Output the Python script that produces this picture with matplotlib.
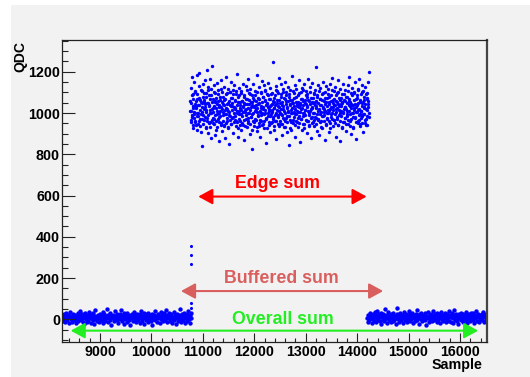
#! /usr/bin/env python

# QDC per sample, with the edge / buffered / overall summing windows marked
import numpy as np
import matplotlib
matplotlib.use("Agg")
import matplotlib.pyplot as plt
from matplotlib.patches import Rectangle
from matplotlib.ticker import MultipleLocator

plt.rcParams['font.family'] = ['Liberation Sans', 'DejaVu Sans']
plt.rcParams['font.weight'] = 'bold'

# sample ranges of the three parts of the trace (decimated samples)
base_left_range = (8270, 10775)
pulse_range = (10752, 14230)
base_right_range = (14195, 16510)

# baseline before the pulse
base_left = [
    12, -8, 25, 3, 17, -15, 30, 6, -2, 21, 9, -20, 14, 35, 0, 11, -12, 27, 5, 18,
    -5, 22, 8, -18, 15, 2, 33, -9, 19, 7, 41, -3, 12, 26, -14, 4, 16, -24, 10, 29,
    1, -11, 20, 13, -6, 37, 8, 24, -17, 5, 15, 31, -1, 9, -22, 18, 44, 3, 11, -7,
    23, 6, -13, 28, 14, -4, 19, 2, 35, -19, 10, 25, 7, -9, 17, 50, 4, -15, 21, 12,
    -2, 30, 9, -26, 16, 5, 22, -10, 13, 38, 0, 18, -5, 27, 8, -16, 11, 24, 3, 47,
    14, -8, 20, 6, -21, 29, 10, 1, 17, -13, 33, 7, 23, -3, 12, -28, 19, 5, 26, 15,
    -6, 9, 36, 2, 21, -12, 16, 28, -1, 11, 4, -18, 25, 13, 42, -7, 8, 19, -23, 30,
    6, 17, -4, 24, 10, -14, 32, 3, 15, 20, -9, 7, 27, -30, 13, 1, 22, 39, -5, 11,
    18, -11, 26, 4, 14, -19, 9, 34, 0, 21, 12, -6, 29, 16, -2, 8, 45, -15, 23, 5,
    10, 31, -8, 19, 2, 25, -17, 13, 7, 36, -4, 20, 11, -25, 28, 6, 15, -10, 22, 52,
    3, 16, -13, 27, 9, -1, 33, 12, -20, 18, 5, 24, -7, 14, 40, 1, 21, -16, 8, 30,
]

# pulse region, wide spread
pulse = [
    1060, 955, 1120, 1010, 980, 1175, 1035, 925, 1090, 995, 1150, 960, 1045, 1105, 940, 1025, 1185, 985, 1070, 1000,
    945, 1130, 1040, 1195, 970, 1065, 910, 1110, 1005, 1050, 840, 1140, 990, 1055, 1095, 965, 1030, 1160, 930, 1080,
    1015, 1210, 975, 1050, 1125, 905, 1035, 1085, 955, 1165, 1000, 880, 1115, 1020, 1230, 950, 1070, 1005, 1135, 970,
    1055, 895, 1095, 1025, 960, 1145, 995, 930, 1060, 1110, 980, 1040, 865, 1080, 1010, 1160, 950, 1030, 1100, 915,
    1045, 990, 1125, 940, 1065, 1015, 880, 1090, 995, 1175, 960, 1020, 1115, 925, 1050, 1005, 850, 1100, 985, 1040,
    1150, 945, 1035, 1075, 975, 1110, 905, 1000, 1135, 1025, 965, 1060, 1090, 935, 1010, 1190, 955, 1055, 885, 1085,
    995, 1120, 960, 1040, 1015, 920, 1105, 1060, 985, 1140, 940, 1030, 1080, 870, 1005, 1045, 970, 1130, 1020, 930,
    1070, 1000, 1165, 950, 1045, 1095, 900, 1015, 1115, 980, 1055, 825, 1085, 995, 960, 1140, 1030, 935, 1065, 1010,
    1105, 965, 1040, 1185, 915, 1025, 1075, 990, 1125, 935, 1050, 1005, 885, 1100, 1035, 960, 1155, 1000, 945, 1080,
    1020, 1135, 925, 1060, 1000, 1110, 970, 855, 1045, 1090, 985, 1030, 1145, 940, 1010, 1070, 910, 1120, 995, 1040,
    955, 1095, 1015, 980, 1245, 1055, 920, 1025, 1085, 960, 1130, 1000, 875, 1065, 1105, 990, 1035, 935, 1170, 1010,
    1050, 945, 1090, 995, 1140, 895, 1040, 1115, 975, 1020, 1075, 930, 1150, 1000, 960, 1060, 1100, 910, 1030, 985,
    1125, 1010, 845, 1080, 1045, 965, 1110, 1000, 920, 1065, 1025, 1180, 950, 1050, 1095, 980, 1005, 1135, 885, 1055,
    995, 1115, 955, 1035, 1085, 930, 1005, 1160, 985, 1050, 860, 1100, 1020, 970, 1070, 1120, 945, 1040, 1000, 1140,
    925, 1065, 1015, 990, 1105, 1045, 905, 1090, 1030, 960, 1165, 1000, 1060, 940, 1125, 1010, 880, 1075, 980, 1025,
    1145, 955, 1050, 1000, 1095, 935, 1055, 1110, 975, 1035, 1225, 915, 1080, 1010, 965, 1135, 1020, 895, 1070, 995,
    1120, 960, 1040, 1090, 925, 1025, 1150, 985, 1060, 1005, 870, 1100, 1045, 945, 1130, 1000, 1075, 970, 1015, 1115,
    910, 1055, 1010, 1140, 950, 1030, 1085, 980, 1170, 1000, 935, 1065, 1105, 965, 1040, 995, 1125, 885, 1060, 1020,
    1095, 970, 1045, 1160, 940, 1015, 1075, 1000, 865, 1115, 1035, 985, 1090, 925, 1055, 1140, 1005, 955, 1065, 1030,
    975, 1110, 1020, 915, 1080, 1050, 995, 1135, 945, 1060, 1010, 1175, 960, 1035, 1095, 900, 1045, 1000, 1120, 980,
    1040, 930, 1100, 1025, 1150, 975, 1070, 1005, 875, 1085, 1040, 950, 1115, 1015, 965, 1165, 995, 1055, 935, 1090,
    1010, 1135, 985, 1050, 910, 1105, 1030, 995, 1065, 950, 1125, 1020, 970, 1075, 1095, 940, 1045, 1150, 980, 1200,
]

# pulse region, samples in between (dense core)
pulse_core = [
    1010, 965, 1050, 990, 1085, 940, 1025, 1070, 975, 1005, 1100, 955, 1035, 1060, 920, 1000, 1090, 985, 1040, 960,
    1075, 1015, 935, 1055, 995, 1105, 970, 1030, 1080, 945, 1020, 1065, 980, 1045, 925, 1095, 1005, 960, 1050, 1110,
    990, 1040, 950, 1070, 1015, 930, 1085, 1000, 965, 1055, 1025, 975, 1100, 945, 1035, 1060, 990, 920, 1075, 1010,
    1045, 970, 1090, 1000, 955, 1030, 1065, 985, 1115, 940, 1020, 1055, 960, 1005, 1080, 935, 1040, 995, 1070, 950,
    1025, 1095, 975, 1045, 1010, 930, 1060, 990, 1100, 965, 1035, 1075, 945, 1015, 1050, 980, 1090, 955, 1030, 1065,
    985, 1020, 1105, 960, 1040, 1000, 925, 1080, 1010, 970, 1055, 1025, 940, 1095, 995, 1060, 950, 1035, 1005, 1085,
    965, 1050, 1015, 935, 1070, 990, 1045, 1110, 975, 1025, 960, 1065, 1000, 945, 1090, 1030, 980, 1055, 920, 1040,
    1075, 1000, 955, 1035, 1085, 970, 1020, 1060, 930, 1005, 1100, 985, 1045, 950, 1070, 1010, 965, 1095, 1025, 990,
    1055, 940, 1030, 1080, 995, 960, 1065, 1015, 1105, 975, 1040, 925, 1050, 1000, 1085, 955, 1020, 1070, 985, 1035,
    950, 1090, 1005, 1045, 970, 1060, 1025, 935, 1075, 990, 1040, 1110, 960, 1015, 1050, 980, 1095, 945, 1030, 1065,
    1000, 960, 1080, 1020, 945, 1055, 990, 1100, 1035, 970, 1010, 1070, 930, 1045, 1085, 975, 1025, 955, 1060, 1005,
    1090, 985, 1040, 925, 1065, 1015, 955, 1050, 1000, 1105, 965, 1035, 1075, 940, 1020, 995, 1080, 960, 1045, 1010,
    975, 1055, 1030, 950, 1095, 1005, 1040, 970, 1070, 920, 1025, 1060, 985, 1110, 1000, 945, 1050, 1015, 1085, 965,
    1035, 1080, 960, 1010, 1065, 990, 935, 1045, 1100, 975, 1020, 1055, 950, 1030, 1075, 1000, 965, 1090, 1040, 980,
    1060, 945, 1025, 1085, 995, 1050, 970, 1015, 1105, 955, 1040, 1070, 930, 1005, 1065, 985, 1030, 1095, 960, 1020,
    990, 1075, 1010, 940, 1055, 1035, 975, 1090, 1000, 1045, 960, 1080, 1020, 925, 1060, 995, 1110, 970, 1030, 1050,
    1015, 965, 1070, 1040, 950, 1005, 1085, 980, 1055, 1025, 940, 1100, 990, 1035, 1065, 960, 1045, 1010, 1075, 930,
    1050, 1000, 955, 1090, 1020, 975, 1060, 1030, 945, 1080, 1010, 985, 1105, 965, 1040, 1070, 995, 935, 1055, 1025,
    970, 1085, 1040, 1000, 925, 1065, 1015, 1095, 980, 1045, 955, 1030, 1075, 1005, 960, 1050, 1110, 990, 1020, 945,
    1065, 1010, 975, 1035, 1100, 950, 1055, 995, 1080, 1025, 965, 1045, 1090, 940, 1015, 1070, 985, 1030, 1060, 1000,
]

# baseline after the pulse
base_right = [
    8, -12, 22, 15, -4, 30, 5, 18, -19, 11, 26, 2, -8, 35, 13, -15, 20, 7, 42, -2,
    16, 24, -10, 9, 31, -22, 14, 3, 27, -6, 19, 48, 1, 12, -17, 23, 6, 37, -3, 15,
    10, -14, 28, 4, 21, -9, 33, 13, -1, 17, -24, 8, 25, 55, 2, 19, -11, 29, 6, 14,
    -5, 22, 11, -18, 34, 7, 16, -2, 26, 9, -13, 20, 3, 39, 12, -7, 24, 0, 17, 30,
    -16, 10, 23, 5, -8, 28, 14, 45, -3, 19, 8, -21, 25, 11, 2, 32, -10, 16, 6, 21,
    13, -5, 29, 9, -26, 18, 4, 36, 15, -12, 22, 1, 27, 10, -7, 41, 17, -1, 8, 24,
    3, 20, -15, 31, 12, -4, 16, 26, -20, 7, 35, 14, 0, 23, -9, 11, 29, 5, -14, 18,
    25, 2, 15, -6, 38, 9, 21, -11, 13, 30, 6, -17, 19, 44, -2, 12, 27, 4, -8, 16,
    -23, 10, 24, 7, 33, -3, 18, 1, 28, -13, 14, 8, 22, -5, 37, 11, -19, 20, 3, 26,
    15, -9, 29, 6, 17, -1, 32, 12, -16, 23, 4, 40, 9, -6, 19, 25, -12, 13, 2, 21,
    7, 27, -4, 14, 34, -15, 18, 10, 24, -2,
]

# rising edge samples
edge_x = [10768, 10768, 10768, 10766, 10766]
edge_y = [357, 312, 267, 80, 56]

# summing windows: (label, start, stop, level, colour, text x, text y)
windows = [
    ("Edge sum", 10910, 14185, 595, "#ff0000", 12460, 635),
    ("Buffered sum", 10574, 14507, 137, "#d95f5f", 12530, 175),
    ("Overall sum", 8429, 16354, -55, "#22ee22", 12555, -23),
]

fig = plt.figure(figsize=(5.30, 3.77), dpi=100)
fig.patch.set_facecolor("white")
fig.add_artist(Rectangle((11/530, 0), 1, 1 - 5/377, transform=fig.transFigure,
                         facecolor="#f2f2f2", edgecolor="none", zorder=-10))

ax = fig.add_axes([62/530, 1 - 342/377, (486.7 - 62)/530, (342 - 40)/377])
ax.set_facecolor("#f2f2f2")

blue = "#0000ff"
for rng, ys, size in [(base_left_range, base_left, 10), (base_right_range, base_right, 10),
                      (pulse_range, pulse, 6)]:
    xs = np.linspace(rng[0], rng[1], len(ys))
    ax.scatter(xs, ys, s=size, c=blue, marker="o", linewidths=0)
xs_core = np.linspace(pulse_range[0] + 4, pulse_range[1] - 4, len(pulse_core))
ax.scatter(xs_core, pulse_core, s=6, c=blue, marker="o", linewidths=0)
ax.scatter(edge_x, edge_y, s=5, c=blue, marker="o", linewidths=0)

for label, x1, x2, lev, col, tx, ty in windows:
    ax.annotate("", xy=(x2, lev), xytext=(x1, lev),
                arrowprops=dict(arrowstyle="<|-|>,head_length=0.86,head_width=0.47",
                                color=col, lw=1.5, shrinkA=0, shrinkB=0, mutation_scale=10))
    ax.text(tx, ty, label, color=col, ha="center", va="baseline",
            fontsize=12.8, fontweight="bold")

ax.set_xlim(8260, 16520)
ax.set_ylim(-110, 1354)
ax.xaxis.set_major_locator(MultipleLocator(1000))
ax.xaxis.set_minor_locator(MultipleLocator(200))
ax.yaxis.set_major_locator(MultipleLocator(200))
ax.yaxis.set_minor_locator(MultipleLocator(50))

ax.tick_params(which="both", direction="in", top=False, right=False,
               width=0.8, color="#222222", labelsize=10.3)
ax.tick_params(axis="y", which="major", length=9.4, pad=1.5)
ax.tick_params(axis="y", which="minor", length=4.6)
ax.tick_params(axis="x", which="major", length=6.5, pad=2)
ax.tick_params(axis="x", which="minor", length=3.2)
for lab in ax.get_xticklabels() + ax.get_yticklabels():
    lab.set_fontweight("bold")

for side in ["left", "bottom", "top"]:
    ax.spines[side].set_color("#222222")
    ax.spines[side].set_linewidth(0.9)
ax.spines["right"].set_color("#444444")
ax.spines["right"].set_linewidth(1.6)

fig.text(20/530, 1 - 57/377, "QDC", rotation=90, ha="center", va="center",
         fontsize=10, fontweight="bold")
fig.text(482/530, 1 - 365/377, "Sample", ha="right", va="center",
         fontsize=10.3, fontweight="bold")

fig.savefig("out.png", dpi=100, facecolor=fig.get_facecolor())
